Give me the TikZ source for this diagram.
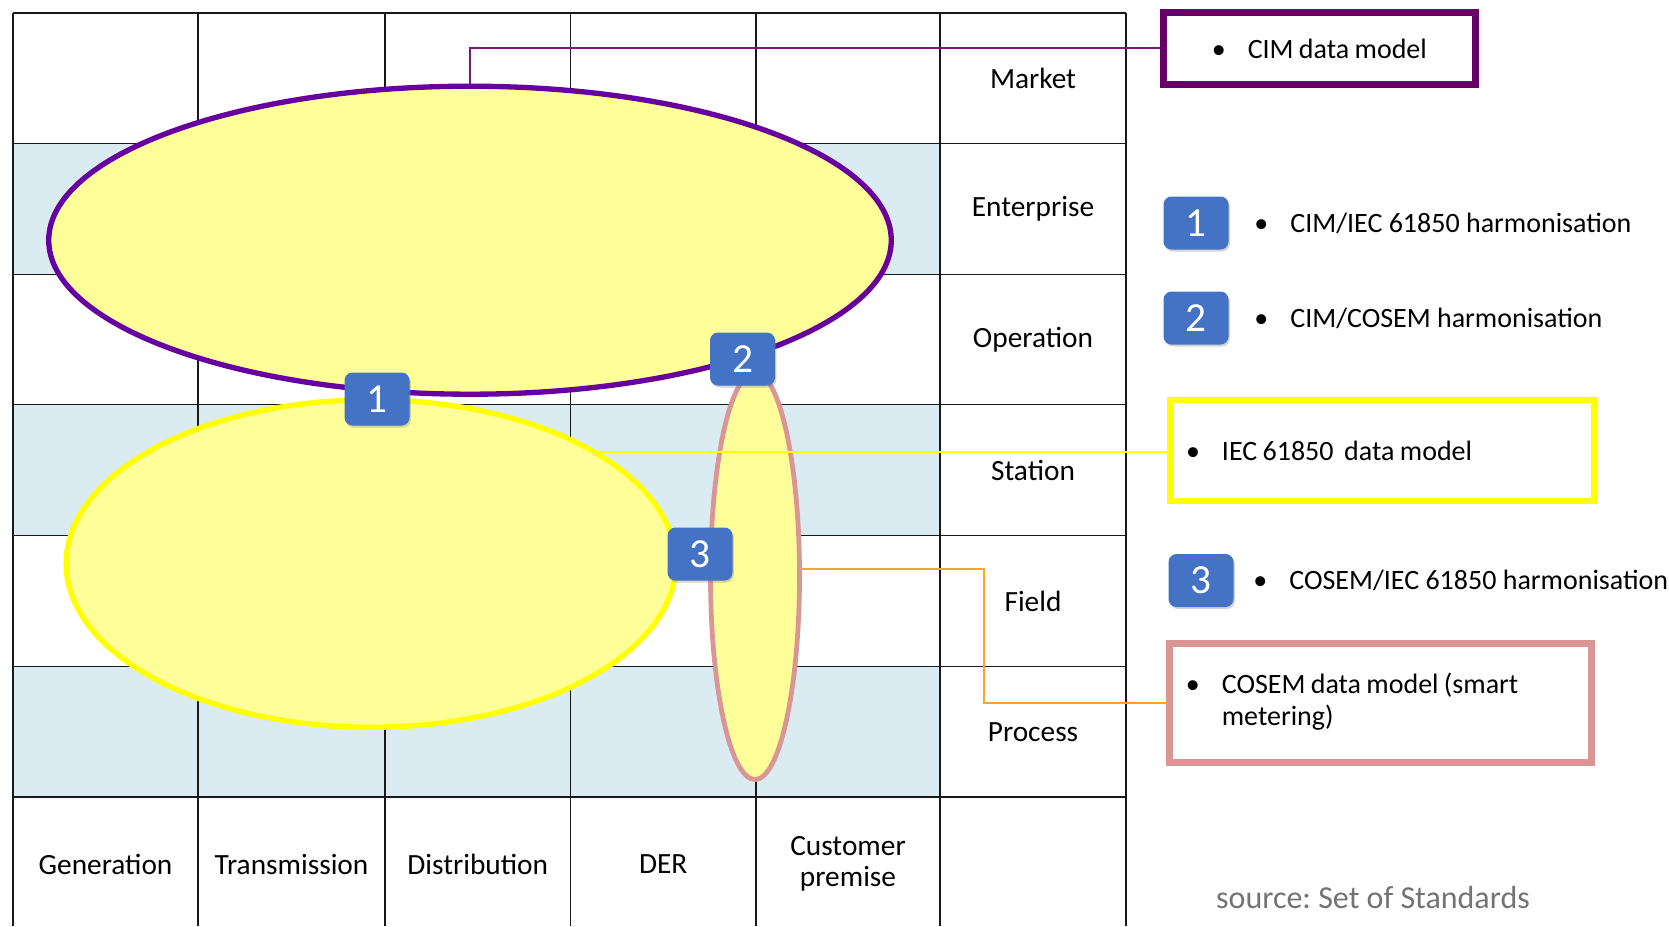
\documentclass[tikz,border=0pt]{standalone}
\usepackage{fontspec}
\setmainfont{Carlito}
\usetikzlibrary{shapes.geometric,positioning,shadows}

\definecolor{rowblue}{RGB}{218,235,242}
\definecolor{ovalfill}{RGB}{255,255,153}
\definecolor{cimpurple}{RGB}{104,0,160}
\definecolor{boxpurple}{RGB}{102,0,102}
\definecolor{linkpurple}{RGB}{128,20,128}
\definecolor{iecyellow}{RGB}{255,255,0}
\definecolor{cosempink}{RGB}{217,150,148}
\definecolor{linkorange}{RGB}{250,165,40}
\definecolor{badgeblue}{RGB}{68,114,196}

\newcommand\bitem[1]{\makebox[27pt][l]{\textbullet}#1}
\newcommand\boxfont{\fontsize{21}{24}\selectfont\spaceskip .19em plus .05em minus .02em\relax}

\tikzset{
  gridline/.style={line width=1.1pt, black!90},
  layerlabel/.style={font=\fontsize{22}{24}\selectfont},
  domainlabel/.style={font=\fontsize{22}{23}\selectfont, align=center},
  oval/.style={ellipse, fill=ovalfill, inner sep=0pt},
  badge/.style={rectangle, rounded corners=6pt, fill=badgeblue, text=white,
    minimum width=48.75pt, minimum height=39.75pt, inner sep=0pt,
    font=\fontsize{31}{31}\selectfont,
    drop shadow={shadow xshift=1pt, shadow yshift=-1.5pt, opacity=.35}},
  modelbox/.style={rectangle, line width=5.2pt, fill=white, inner xsep=12pt,
    inner ysep=0pt, align=flush left, font=\boxfont},
  legend/.style={inner sep=0pt, font=\fontsize{21}{24}\selectfont},
}

\begin{document}
\begin{tikzpicture}[x=0.75pt,y=0.75pt,yscale=-1,xscale=1]
\useasboundingbox (0,0) rectangle (1669,926);

%Shape: Rows [shaded bands]
\foreach \y in {143.7,404.5,666.3}
  \fill[rowblue] (13,\y) rectangle (940,\y+130.9);

%Straight Lines: grid
\foreach \y in {13,143.7,274.6,404.5,535.4,666.3,797.2}
  \draw[gridline] (13,\y) -- (1126,\y);
\foreach \x in {13,198,385,570.5,756,940,1126}
  \draw[gridline] (\x,13) -- (\x,926);

% Text Node: layers
\foreach \name [count=\i] in {Market,Enterprise,Operation,Station,Field,Process}
  \node[layerlabel] (row\i) at (1033,{13+130.7*(\i-0.5)}) {\name};

% Text Node: domains
\foreach \x/\name [count=\i] in {105.5/Generation,291.5/Transmission,477.75/Distribution,663.25/DER,848/{Customer\\premise}}
  \node[domainlabel] (col\i) at (\x,864) {\name};

%Shape: Ellipse [CIM]
\node[oval, draw=cimpurple, line width=4pt, minimum width=631.9pt, minimum height=231pt] (cim) at (470,240.2) {};
%Shape: Ellipse [IEC 61850]
\node[oval, draw=iecyellow, line width=4pt, minimum width=457.3pt, minimum height=245.6pt] (iec) at (371,563.5) {};
%Shape: Ellipse [COSEM]
\node[oval, draw=cosempink, line width=3.6pt, minimum width=66.75pt, minimum height=305.25pt] (cosem) at (755,576) {};

%Shape: Model boxes
\node[modelbox, draw=boxpurple, minimum width=233.6pt, minimum height=53.5pt] (cimbox) at (1319.3,48.4) {\bitem{CIM data model}};
\node[modelbox, draw=iecyellow, minimum width=318pt, minimum height=75.75pt, text width=294pt] (iecbox) at (1382,450.5) {\bitem{IEC 61850~ data model}};
\node[modelbox, draw=cosempink, minimum width=316.2pt, minimum height=88.65pt, text width=292pt] (cosembox) at (1380.5,703) {\bitem{\begin{tabular}[t]{@{}l@{}}COSEM data model (smart\\metering)\end{tabular}}};

%Straight Lines: links
\draw[linkpurple, line width=1.5pt] (cim.north) |- (cimbox.west);
\draw[iecyellow, line width=1.5pt] (iec.26) -- (iec.26 -| iecbox.west);
\draw[linkorange, line width=1.5pt] (cosem.9) -- ++(182,0) |- (cosembox.west);

%Shape: Badges on the map
\node[badge] (b1) at (377,399) {1};
\node[badge] (b2) at (742.5,359) {2};
\node[badge] (b3) at (700,554) {3};

%Shape: Legend
\node[badge] (leg1) at (1196,223) {1};
\node[badge] (leg2) at (1196,318) {2};
\node[badge] (leg3) at (1201,580.5) {3};
\node[legend, right=19pt of leg1] (txt1) {\bitem{CIM/IEC 61850 harmonisation}};
\node[legend, right=19pt of leg2] (txt2) {\bitem{CIM/COSEM harmonisation}};
\node[legend, right=14.5pt of leg3] (txt3) {\bitem{COSEM/IEC 61850 harmonisation}};

% Text Node
\node[text=black!55, font=\fontsize{24}{26}\selectfont] (source) at (1373,897) {source:\ Set of Standards};

\end{tikzpicture}
\end{document}
